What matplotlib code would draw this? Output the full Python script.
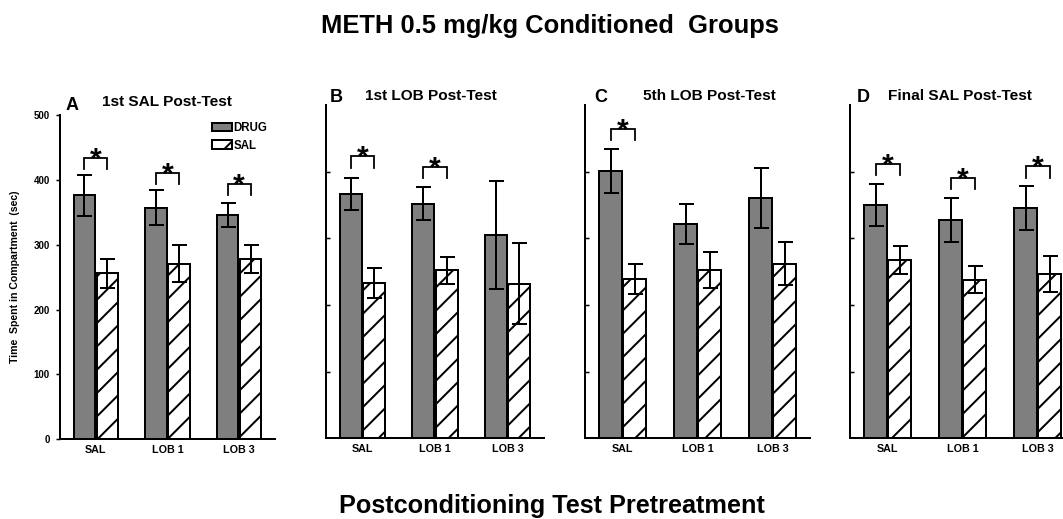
import numpy as np
import matplotlib
matplotlib.use('Agg')
import matplotlib.pyplot as plt

# ---------------------------------------------------------
# Values (seconds)
# ---------------------------------------------------------
groups = ['SAL', 'LOB 1', 'LOB 3']
panel_letters = ['A', 'B', 'C', 'D']
panel_titles = ['1st SAL Post-Test', '1st LOB Post-Test',
                '5th LOB Post-Test', 'Final SAL Post-Test']

drug_mean = [[376, 357, 346], [367, 352, 305], [401, 322, 361], [350, 327, 345]]
drug_err = [[32, 27, 19], [24, 25, 81], [33, 30, 45], [31, 33, 33]]
sal_mean = [[256, 271, 278], [233, 252, 232], [239, 253, 262], [267, 238, 246]]
sal_err = [[22, 28, 22], [22, 20, 61], [22, 27, 32], [21, 20, 27]]

# significant DRUG vs SAL comparisons: group index and bracket height
sig_groups = [[0, 1, 2], [0, 1], [0], [0, 1, 2]]
sig_height = [[434, 411, 393], [423, 407], [464], [412, 391, 408]]

# ---------------------------------------------------------
# Figure setup (dpi 70 so the hatch spacing matches the original)
# ---------------------------------------------------------
DPI = 70
W, H = 1063, 519
PT = 72.0 / DPI   # pixels -> points

plt.rcParams['font.family'] = ['Liberation Sans', 'DejaVu Sans']
plt.rcParams['font.weight'] = 'bold'
plt.rcParams['hatch.linewidth'] = 2.0 * PT

fig = plt.figure(figsize=(W / DPI, H / DPI), dpi=DPI)

# axes boxes in pixels: (left, width, y of 0, y of 500)
boxes = [(60, 215, 439.3, 115), (326, 218, 438.3, 105),
         (585, 225, 438.3, 105), (850, 225, 438.3, 105)]
letter_pos = [(66, 110.5), (330, 101.5), (594, 101.5), (857, 101.5)]
title_pos = [(102, 106.5), (365, 100), (643, 100), (888, 100)]

gray = '#7f7f7f'
bw = 0.30
off = 0.16
x = np.arange(len(groups))

for i in range(4):
    left, width, y0, y1 = boxes[i]
    ax = fig.add_axes([left / W, 1 - y0 / H, width / W, (y0 - y1) / H])

    ax.bar(x - off, drug_mean[i], bw, color=gray, edgecolor='black',
           linewidth=2 * PT, label='DRUG', zorder=2)
    ax.bar(x + off, sal_mean[i], bw, color='white', edgecolor='black',
           linewidth=2 * PT, hatch='/', label='SAL', zorder=2)
    ax.errorbar(x - off, drug_mean[i], yerr=drug_err[i], fmt='none',
                ecolor='black', elinewidth=2 * PT, capsize=7.5 * PT,
                capthick=2 * PT, zorder=3)
    ax.errorbar(x + off, sal_mean[i], yerr=sal_err[i], fmt='none',
                ecolor='black', elinewidth=2 * PT, capsize=7.5 * PT,
                capthick=2 * PT, zorder=3)

    # significance brackets with asterisks
    for g, h in zip(sig_groups[i], sig_height[i]):
        ax.plot([g - off, g - off, g + off, g + off], [h - 17, h, h, h - 17],
                color='black', linewidth=1.8 * PT, solid_joinstyle='miter')
        ax.annotate('*', xy=(g, h), xytext=(0, -10 * PT), textcoords='offset points',
                    ha='center', va='baseline', fontsize=30 * PT, fontweight='bold')

    ax.set_xlim(-0.5, 2.5)
    ax.set_ylim(0, 500)
    ax.set_xticks(x)
    ax.set_xticklabels(groups, fontsize=10.8 * PT, fontweight='bold')
    ax.tick_params(axis='x', length=0, pad=6 * PT)
    for s in ['top', 'right']:
        ax.spines[s].set_visible(False)
    for s in ['left', 'bottom']:
        ax.spines[s].set_linewidth(2 * PT)

    if i == 0:
        ax.set_yticks([0, 100, 200, 300, 400, 500])
        ax.tick_params(axis='y', direction='out', length=4 * PT, width=1.5 * PT,
                       labelsize=9.8 * PT, pad=6 * PT)
        for lab in ax.get_yticklabels():
            lab.set_fontweight('bold')
        ax.set_ylabel('Time  Spent in Compartment  (sec)', fontsize=10.5 * PT,
                      fontweight='bold', labelpad=14 * PT)
        ax.legend(loc='upper left', bbox_to_anchor=(0.68, 0.995), frameon=False,
                  handlelength=1.75, handleheight=0.7,
                  handletextpad=0.1, labelspacing=0.45, borderpad=0,
                  prop={'weight': 'bold', 'size': 11.5 * PT})
    else:
        ax.set_yticks([100, 200, 300, 400])
        ax.set_yticklabels([])
        ax.tick_params(axis='y', direction='in', length=4 * PT, width=1.5 * PT)

    lx, ly = letter_pos[i]
    fig.text(lx / W, 1 - ly / H, panel_letters[i], fontsize=18 * PT,
             fontweight='bold', ha='left', va='baseline')
    tx, ty = title_pos[i]
    fig.text(tx / W, 1 - ty / H, panel_titles[i], fontsize=15.4 * PT,
             fontweight='bold', ha='left', va='baseline')

fig.text(550 / W, 1 - 33 / H, 'METH 0.5 mg/kg Conditioned  Groups',
         fontsize=25.5 * PT, fontweight='bold', ha='center', va='baseline')
fig.text(552 / W, 1 - 513 / H, 'Postconditioning Test Pretreatment',
         fontsize=25.3 * PT, fontweight='bold', ha='center', va='baseline')

fig.savefig('out.png', dpi=DPI)
